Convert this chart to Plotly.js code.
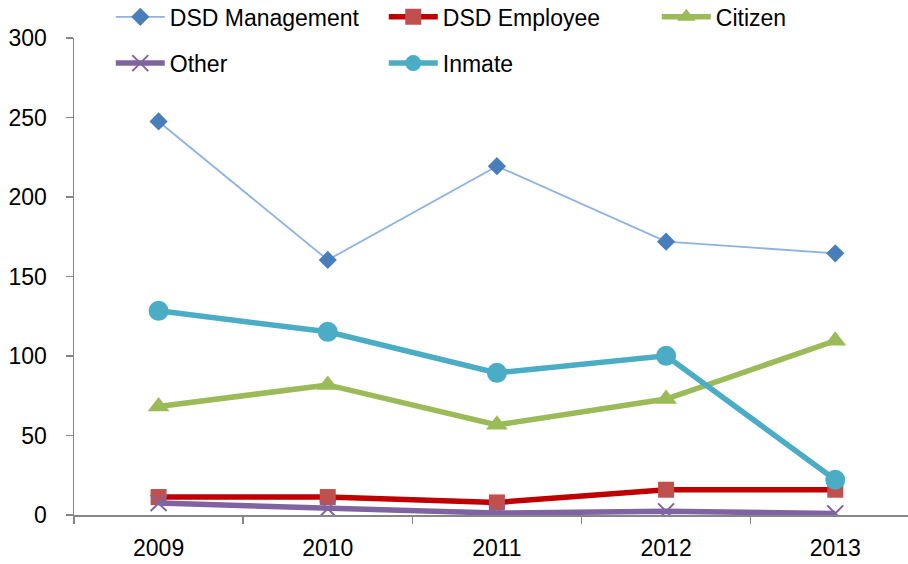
<!DOCTYPE html>
<html><head><meta charset="utf-8">
<script src="https://cdn.plot.ly/plotly-3.0.1.min.js"></script>
<style>body{margin:0;padding:0;background:#fff}#chart{width:908px;height:564px}</style>
</head><body><div id="chart"></div>
<script>
var years = ['2009','2010','2011','2012','2013'];
var dsdManagement = [247.5, 160.4, 219.4, 171.9, 164.6];
var dsdEmployee = [11.3, 11.3, 7.9, 15.9, 15.9];
var citizen = [68.2, 81.8, 56.7, 72.9, 109.6];
var other = [7.5, 4, 1.2, 2.3, 1];
var inmate = [128.4, 115.2, 89.4, 100.1, 22.2];

var FONT = 'Liberation Sans, Arial, sans-serif';
var traces = [
  {name:'DSD Management', x:years, y:dsdManagement, mode:'lines+markers', legend:'legend',
   line:{color:'#8DB3E2', width:1.8}, marker:{symbol:'diamond', size:14, color:'#4A7EBB'}},
  {name:'DSD Employee', x:years, y:dsdEmployee, mode:'lines+markers', legend:'legend',
   line:{color:'#C00000', width:5.5}, marker:{symbol:'square', size:16, color:'#C0504D'}},
  {name:'Citizen', x:years, y:citizen, mode:'lines+markers', legend:'legend3',
   line:{color:'#9BBB59', width:5.5}, marker:{symbol:'triangle-up', size:19, color:'#9BBB59'}},
  {name:'Other', x:years, y:other, mode:'lines+markers', legend:'legend2',
   line:{color:'#8064A2', width:5.5}, marker:{symbol:'x-thin-open', size:16, color:'#8064A2', line:{width:2, color:'#8064A2'}}},
  {name:'Inmate', x:years, y:inmate, mode:'lines+markers', legend:'legend2',
   line:{color:'#4BACC6', width:5.5}, marker:{symbol:'circle', size:20, color:'#4BACC6'}}
];
var legendCommon = {orientation:'h', xanchor:'left', yanchor:'middle', xref:'container', yref:'container',
  entrywidth:209, entrywidthmode:'pixels',
  font:{family:FONT, size:23, color:'#000'}, bgcolor:'rgba(0,0,0,0)', itemwidth:49};
var layout = {
  width:908, height:564,
  margin:{l:74, r:0, t:38, b:49, autoexpand:false},
  paper_bgcolor:'#fff', plot_bgcolor:'#fff',
  font:{family:FONT, size:23, color:'#000'},
  showlegend:true,
  legend:Object.assign({}, legendCommon, {x:0.122, y:0.970}),
  legend3:Object.assign({}, legendCommon, {x:0.122 + 546/908, y:0.970}),
  legend2:Object.assign({}, legendCommon, {x:0.122, y:0.888}),
  xaxis:{type:'category', range:[-0.5, 4.43], showgrid:false, zeroline:false,
    showline:true, linecolor:'#868686', linewidth:1.5, ticks:'outside', ticklen:7, tickcolor:'#868686',
    tickwidth:1.5, tickson:'boundaries', ticklabelstandoff:12, tickfont:{family:FONT, size:23, color:'#000'}},
  yaxis:{range:[0,300], dtick:50, showgrid:false, zeroline:false,
    showline:true, linecolor:'#868686', linewidth:1.5, ticks:'outside', ticklen:7, tickcolor:'#868686',
    tickwidth:1.5, ticklabelstandoff:14, tickfont:{family:FONT, size:23, color:'#000'}}
};
Plotly.newPlot('chart', traces, layout, {displayModeBar:false, staticPlot:true});
</script></body></html>
